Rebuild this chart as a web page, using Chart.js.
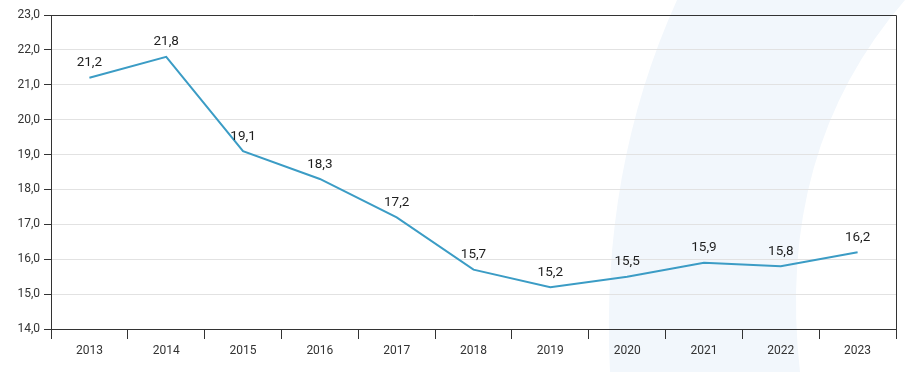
<!DOCTYPE html>
<html>
<head>
<meta charset="utf-8">
<script src="https://cdn.jsdelivr.net/npm/chart.js@4"></script>
<style>
	html, body { margin: 0; padding: 0; background: #fff; }
	.chart { width: 910px; height: 372px; }
</style>
</head>
<body>
<div class="chart"><canvas class="chart__canvas" width="910" height="372"></canvas></div>
<script>
const years = ["2013", "2014", "2015", "2016", "2017", "2018", "2019", "2020", "2021", "2022", "2023"];
const values = [21.2, 21.8, 19.1, 18.3, 17.2, 15.7, 15.2, 15.5, 15.9, 15.8, 16.2];
const yMin = 14;
const yMax = 23;

const lineColor = "#3b9cc5";
const fmt = (v, d) => v.toFixed(d).replace(".", ",");

// light decorative band behind the chart
const backdrop = {
	id: "backdrop",
	beforeDraw(chart) {
		const ctx = chart.ctx;
		ctx.save();
		ctx.fillStyle = "#f2f7fc";
		ctx.beginPath();
		ctx.moveTo(677, 0);
		ctx.quadraticCurveTo(600, 170, 610, 372);
		ctx.lineTo(800, 372);
		ctx.quadraticCurveTo(775, 150, 905, 0);
		ctx.closePath();
		ctx.fill();
		ctx.restore();
	},
	afterDraw(chart) {
		const { ctx, chartArea } = chart;
		ctx.save();
		ctx.strokeStyle = "#333";
		ctx.lineWidth = 1;
		ctx.beginPath();
		ctx.moveTo(chartArea.left, chartArea.top + 0.5);
		ctx.lineTo(chartArea.right + 0.5, chartArea.top + 0.5);
		ctx.lineTo(chartArea.right + 0.5, chartArea.bottom);
		ctx.stroke();
		ctx.restore();
	},
};

const valueLabels = {
	id: "valueLabels",
	afterDatasetsDraw(chart) {
		const ctx = chart.ctx;
		const meta = chart.getDatasetMeta(0);
		ctx.save();
		ctx.font = "13.5px Roboto";
		ctx.fillStyle = "#1e1e1e";
		ctx.textAlign = "center";
		ctx.textBaseline = "bottom";
		meta.data.forEach((pt, i) => {
			ctx.fillText(fmt(values[i], 1), pt.x, pt.y - 8);
		});
		ctx.restore();
	},
};

const config = {
	type: "line",
	data: {
		labels: years,
		datasets: [
			{
				data: values,
				borderColor: lineColor,
				borderWidth: 2,
				pointRadius: 0,
				tension: 0,
				fill: false,
			},
		],
	},
	options: {
		responsive: false,
		animation: false,
		layout: { padding: { top: 15, right: 14, left: 0, bottom: 0 } },
		plugins: { legend: { display: false }, tooltip: { enabled: false } },
		scales: {
			x: {
				offset: true,
				grid: {
					offset: true,
					drawOnChartArea: false,
					tickLength: 10,
					tickColor: "#333",
				},
				border: { color: "#333", width: 1 },
				ticks: { color: "#333", font: { family: "Roboto", size: 12 }, padding: 5 },
				afterFit: (scale) => { scale.height = 43; },
			},
			y: {
				min: yMin,
				max: yMax,
				grid: { color: "#e2e2e2", tickLength: 7, tickColor: "#333" },
				border: { color: "#333", width: 1 },
				ticks: {
					stepSize: 1,
					color: "#333",
					font: { family: "Roboto", size: 12 },
					padding: 4,
					callback: (v) => fmt(v, 1),
				},
				afterFit: (scale) => { scale.width = 51; },
			},
		},
	},
	plugins: [backdrop, valueLabels],
};

new Chart(document.querySelector(".chart__canvas"), config);
</script>
</body>
</html>
